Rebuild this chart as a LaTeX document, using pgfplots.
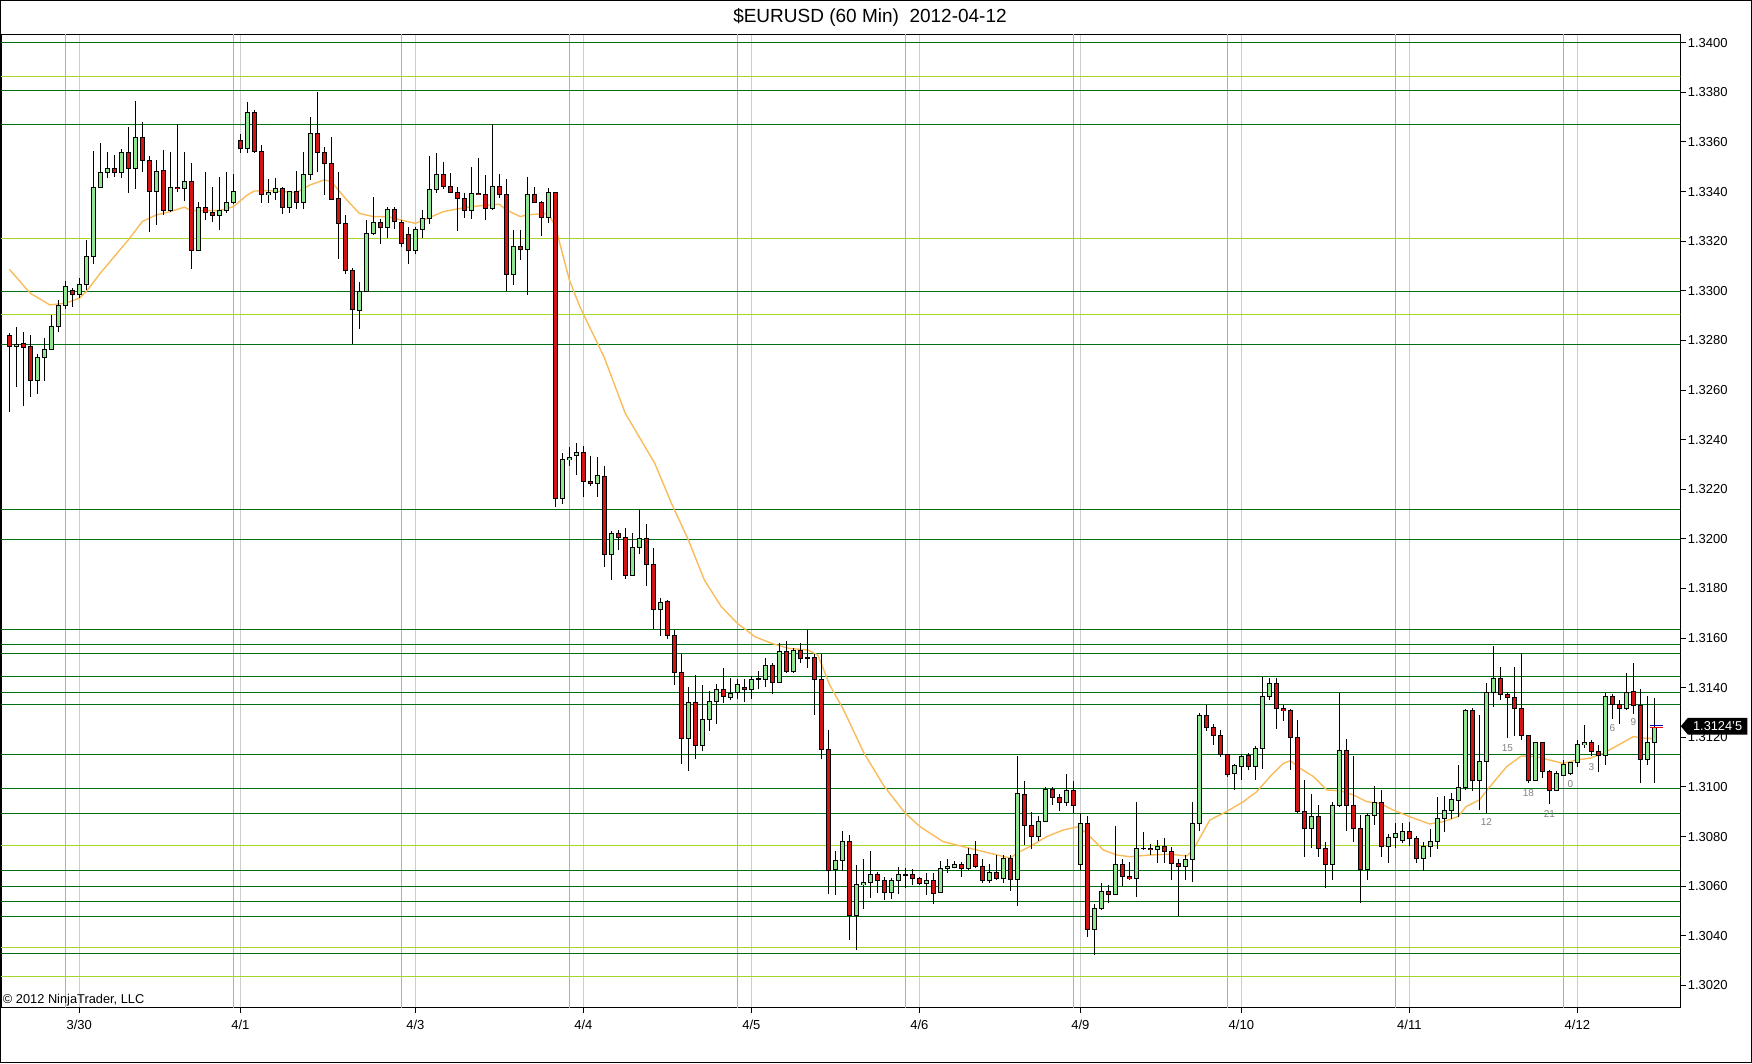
\documentclass[border=0pt]{standalone}
\usepackage{pgfplots}
\pgfplotsset{compat=1.18}
\usepackage{pgfplotstable}
\usepackage{fontspec}
\setmainfont{Liberation Sans}
\usetikzlibrary{shapes.symbols}

\definecolor{dgreen}{RGB}{0,110,20}
\definecolor{lgreen}{RGB}{160,215,40}
\definecolor{vorange}{RGB}{240,170,40}
\definecolor{smaline}{RGB}{248,188,90}
\definecolor{gridgrey}{RGB}{205,205,205}
\definecolor{upbody}{RGB}{144,230,144}
\definecolor{downbody}{RGB}{210,20,20}
\definecolor{hourgrey}{RGB}{130,130,130}

% hourly bars, i = bar number
\pgfplotstableread{
i o h l c
0 1.32819 1.32829 1.32513 1.32776
1 1.32776 1.32856 1.32611 1.32787
2 1.32788 1.32833 1.32537 1.32772
3 1.32774 1.32821 1.32571 1.32639
4 1.32639 1.32748 1.32587 1.32732
5 1.32732 1.32811 1.32638 1.32764
6 1.32764 1.32903 1.32761 1.32857
7 1.32856 1.32963 1.32835 1.32942
8 1.32942 1.33039 1.32928 1.33018
9 1.33001 1.33014 1.32936 1.32987
10 1.32987 1.33053 1.32970 1.33026
11 1.33026 1.33205 1.33003 1.33138
12 1.33138 1.33565 1.33107 1.33417
13 1.33416 1.33597 1.33416 1.33478
14 1.33478 1.33561 1.33456 1.33494
15 1.33494 1.33547 1.33460 1.33478
16 1.33478 1.33570 1.33456 1.33559
17 1.33559 1.33662 1.33393 1.33494
18 1.33494 1.33765 1.33413 1.33619
19 1.33619 1.33679 1.33478 1.33526
20 1.33526 1.33543 1.33236 1.33400
21 1.33400 1.33527 1.33265 1.33483
22 1.33483 1.33568 1.33306 1.33323
23 1.33323 1.33561 1.33319 1.33417
24 1.33417 1.33672 1.33400 1.33412
25 1.33413 1.33561 1.33363 1.33443
26 1.33443 1.33516 1.33091 1.33162
27 1.33162 1.33358 1.33162 1.33337
28 1.33337 1.33480 1.33285 1.33316
29 1.33316 1.33420 1.33279 1.33303
30 1.33303 1.33460 1.33248 1.33324
31 1.33324 1.33480 1.33315 1.33357
32 1.33357 1.33471 1.33353 1.33402
33 1.33607 1.33631 1.33554 1.33573
34 1.33573 1.33761 1.33557 1.33719
35 1.33719 1.33729 1.33557 1.33561
36 1.33561 1.33588 1.33355 1.33389
37 1.33388 1.33451 1.33355 1.33397
38 1.33397 1.33458 1.33366 1.33413
39 1.33413 1.33420 1.33312 1.33337
40 1.33337 1.33400 1.33315 1.33400
41 1.33400 1.33484 1.33330 1.33357
42 1.33357 1.33561 1.33332 1.33469
43 1.33469 1.33702 1.33447 1.33635
44 1.33635 1.33803 1.33480 1.33558
45 1.33558 1.33581 1.33386 1.33514
46 1.33514 1.33619 1.33366 1.33370
47 1.33373 1.33478 1.33128 1.33272
48 1.33272 1.33306 1.33068 1.33081
49 1.33081 1.33091 1.32786 1.32923
50 1.32923 1.33037 1.32849 1.32998
51 1.32998 1.33288 1.32998 1.33232
52 1.33232 1.33379 1.33225 1.33276
53 1.33276 1.33288 1.33189 1.33256
54 1.33256 1.33339 1.33216 1.33330
55 1.33330 1.33339 1.33248 1.33279
56 1.33276 1.33285 1.33178 1.33191
57 1.33228 1.33259 1.33107 1.33162
58 1.33162 1.33259 1.33148 1.33248
59 1.33248 1.33328 1.33212 1.33292
60 1.33292 1.33543 1.33269 1.33410
61 1.33410 1.33557 1.33396 1.33469
62 1.33469 1.33521 1.33413 1.33420
63 1.33420 1.33476 1.33393 1.33396
64 1.33397 1.33420 1.33242 1.33373
65 1.33373 1.33393 1.33292 1.33326
66 1.33326 1.33498 1.33292 1.33393
67 1.33393 1.33537 1.33386 1.33388
68 1.33389 1.33469 1.33285 1.33332
69 1.33332 1.33672 1.33326 1.33420
70 1.33420 1.33471 1.33373 1.33389
71 1.33389 1.33451 1.32999 1.33066
72 1.33066 1.33245 1.33024 1.33181
73 1.33181 1.33245 1.33124 1.33167
74 1.33167 1.33458 1.32986 1.33389
75 1.33389 1.33417 1.33353 1.33357
76 1.33357 1.33363 1.33221 1.33295
77 1.33295 1.33413 1.33275 1.33396
78 1.33396 1.33400 1.32130 1.32163
79 1.32163 1.32348 1.32143 1.32321
80 1.32321 1.32372 1.32294 1.32329
81 1.32338 1.32388 1.32258 1.32349
82 1.32349 1.32374 1.32170 1.32231
83 1.32233 1.32334 1.32213 1.32224
84 1.32224 1.32329 1.32170 1.32254
85 1.32251 1.32294 1.31886 1.31938
86 1.31938 1.32032 1.31834 1.32022
87 1.32022 1.32036 1.31958 1.32006
88 1.32006 1.32043 1.31841 1.31852
89 1.31852 1.32022 1.31852 1.31966
90 1.31966 1.32116 1.31939 1.32002
91 1.32002 1.32059 1.31812 1.31898
92 1.31898 1.31962 1.31637 1.31716
93 1.31716 1.31760 1.31610 1.31747
94 1.31747 1.31754 1.31597 1.31613
95 1.31613 1.31633 1.31411 1.31462
96 1.31462 1.31536 1.31095 1.31196
97 1.31196 1.31404 1.31066 1.31340
98 1.31340 1.31454 1.31113 1.31167
99 1.31167 1.31415 1.31149 1.31273
100 1.31273 1.31387 1.31227 1.31344
101 1.31344 1.31418 1.31254 1.31394
102 1.31394 1.31478 1.31340 1.31364
103 1.31364 1.31438 1.31353 1.31380
104 1.31380 1.31438 1.31357 1.31414
105 1.31402 1.31434 1.31344 1.31394
106 1.31394 1.31447 1.31357 1.31434
107 1.31434 1.31471 1.31398 1.31438
108 1.31434 1.31523 1.31404 1.31490
109 1.31490 1.31499 1.31374 1.31422
110 1.31422 1.31582 1.31422 1.31548
111 1.31548 1.31589 1.31458 1.31465
112 1.31465 1.31559 1.31461 1.31552
113 1.31552 1.31582 1.31499 1.31519
114 1.31519 1.31635 1.31482 1.31521
115 1.31521 1.31536 1.31290 1.31434
116 1.31434 1.31536 1.31112 1.31152
117 1.31152 1.31230 1.30569 1.30666
118 1.30668 1.30742 1.30567 1.30703
119 1.30703 1.30823 1.30663 1.30782
120 1.30782 1.30807 1.30386 1.30482
121 1.30482 1.30688 1.30346 1.30608
122 1.30608 1.30712 1.30511 1.30616
123 1.30616 1.30742 1.30555 1.30648
124 1.30648 1.30656 1.30572 1.30625
125 1.30625 1.30639 1.30545 1.30576
126 1.30576 1.30635 1.30551 1.30625
127 1.30625 1.30679 1.30567 1.30648
128 1.30648 1.30672 1.30592 1.30646
129 1.30648 1.30672 1.30605 1.30632
130 1.30632 1.30639 1.30605 1.30612
131 1.30612 1.30652 1.30565 1.30625
132 1.30625 1.30656 1.30531 1.30574
133 1.30574 1.30703 1.30572 1.30672
134 1.30672 1.30710 1.30655 1.30682
135 1.30679 1.30703 1.30672 1.30688
136 1.30688 1.30699 1.30639 1.30672
137 1.30672 1.30756 1.30666 1.30729
138 1.30729 1.30782 1.30672 1.30679
139 1.30679 1.30709 1.30615 1.30625
140 1.30625 1.30692 1.30615 1.30656
141 1.30656 1.30726 1.30628 1.30632
142 1.30632 1.30726 1.30612 1.30712
143 1.30712 1.30726 1.30582 1.30628
144 1.30628 1.31126 1.30522 1.30972
145 1.30972 1.31024 1.30766 1.30844
146 1.30844 1.30901 1.30753 1.30800
147 1.30800 1.30883 1.30784 1.30863
148 1.30863 1.31002 1.30861 1.30992
149 1.30992 1.31002 1.30928 1.30959
150 1.30959 1.30972 1.30905 1.30938
151 1.30938 1.31055 1.30925 1.30988
152 1.30988 1.31024 1.30894 1.30928
153 1.30688 1.30894 1.30666 1.30854
154 1.30854 1.30883 1.30397 1.30426
155 1.30426 1.30529 1.30326 1.30511
156 1.30511 1.30616 1.30504 1.30582
157 1.30582 1.30605 1.30531 1.30569
158 1.30569 1.30843 1.30565 1.30688
159 1.30688 1.30709 1.30601 1.30639
160 1.30641 1.30696 1.30623 1.30632
161 1.30632 1.30941 1.30555 1.30753
162 1.30753 1.30820 1.30746 1.30755
163 1.30753 1.30770 1.30726 1.30746
164 1.30749 1.30786 1.30693 1.30762
165 1.30762 1.30797 1.30695 1.30739
166 1.30742 1.30760 1.30628 1.30693
167 1.30693 1.30713 1.30480 1.30679
168 1.30679 1.30726 1.30625 1.30709
169 1.30709 1.30938 1.30616 1.30854
170 1.30854 1.31300 1.30824 1.31288
171 1.31288 1.31331 1.31227 1.31241
172 1.31241 1.31254 1.31172 1.31207
173 1.31207 1.31230 1.31122 1.31129
174 1.31129 1.31136 1.31042 1.31051
175 1.31055 1.31095 1.30988 1.31085
176 1.31085 1.31136 1.31031 1.31125
177 1.31125 1.31136 1.31069 1.31082
178 1.31082 1.31165 1.31028 1.31156
179 1.31156 1.31445 1.31075 1.31364
180 1.31364 1.31442 1.31353 1.31418
181 1.31418 1.31438 1.31233 1.31317
182 1.31317 1.31331 1.31268 1.31308
183 1.31308 1.31317 1.31069 1.31200
184 1.31200 1.31270 1.30897 1.30901
185 1.30901 1.31028 1.30719 1.30834
186 1.30834 1.30972 1.30756 1.30883
187 1.30883 1.30928 1.30719 1.30753
188 1.30753 1.30780 1.30592 1.30688
189 1.30688 1.30941 1.30628 1.30925
190 1.30925 1.31380 1.30921 1.31149
191 1.31149 1.31194 1.30824 1.30925
192 1.30925 1.31125 1.30780 1.30834
193 1.30834 1.30887 1.30535 1.30668
194 1.30668 1.30894 1.30625 1.30887
195 1.30887 1.31004 1.30847 1.30937
196 1.30937 1.30988 1.30719 1.30762
197 1.30762 1.30813 1.30695 1.30796
198 1.30796 1.30856 1.30753 1.30813
199 1.30783 1.30854 1.30776 1.30820
200 1.30824 1.30860 1.30762 1.30793
201 1.30793 1.30803 1.30695 1.30713
202 1.30713 1.30780 1.30663 1.30762
203 1.30762 1.30833 1.30719 1.30782
204 1.30782 1.30961 1.30753 1.30874
205 1.30874 1.30964 1.30820 1.30905
206 1.30905 1.30975 1.30871 1.30948
207 1.30948 1.31089 1.30881 1.30999
208 1.30999 1.31313 1.30988 1.31310
209 1.31310 1.31321 1.30985 1.31028
210 1.31028 1.31293 1.30910 1.31105
211 1.31105 1.31418 1.30897 1.31380
212 1.31380 1.31568 1.31321 1.31438
213 1.31438 1.31485 1.31351 1.31374
214 1.31374 1.31384 1.31196 1.31362
215 1.31362 1.31485 1.31206 1.31317
216 1.31317 1.31539 1.31190 1.31210
217 1.31210 1.31210 1.31018 1.31026
218 1.31026 1.31180 1.31026 1.31180
219 1.31180 1.31180 1.31039 1.31062
220 1.31062 1.31071 1.30932 1.30988
221 1.30988 1.31066 1.30985 1.31053
222 1.31048 1.31109 1.31044 1.31093
223 1.31053 1.31102 1.31048 1.31098
224 1.31098 1.31190 1.31082 1.31172
225 1.31172 1.31250 1.31156 1.31180
226 1.31180 1.31190 1.31125 1.31145
227 1.31145 1.31169 1.31062 1.31129
228 1.31129 1.31380 1.31089 1.31367
229 1.31367 1.31378 1.31277 1.31335
230 1.31335 1.31351 1.31254 1.31317
231 1.31317 1.31461 1.31313 1.31384
232 1.31384 1.31501 1.31294 1.31327
233 1.31327 1.31398 1.31018 1.31112
234 1.31112 1.31367 1.31089 1.31180
235 1.31180 1.31360 1.31018 1.31243
}\bars

\begin{document}
\begin{tikzpicture}
\begin{axis}[
    at={(0.5pt,28.15pt)}, anchor=south west,
    scale only axis, width=839.65pt, height=486.7pt,
    xmin=-1.186, xmax=238.71,
    ymin=1.301105, ymax=1.340339,
    axis line style={black, line width=0.5pt},
    xtick={10,33,58,82,106,130,153,176,200,224},
    xticklabels={3/30,4/1,4/3,4/4,4/5,4/6,4/9,4/10,4/11,4/12},
    ytick={1.302,1.304,1.306,1.308,1.310,1.312,1.314,1.316,1.318,1.320,
           1.322,1.324,1.326,1.328,1.330,1.332,1.334,1.336,1.338,1.340},
    xtick pos=left, xticklabel pos=left,
    ytick pos=right, yticklabel pos=right,
    tick align=outside, major tick length=2.75pt,
    tick style={black, line width=0.5pt},
    xmajorgrids, major x grid style={gridgrey, line width=0.5pt},
    ticklabel style={font=\fontsize{6.5}{7}\selectfont},
    yticklabel style={xshift=-2.5pt, /pgf/number format/.cd, fixed, fixed zerofill,
        precision=4, assume math mode=true},
]
% session lines
\pgfplotsinvokeforeach{8,32,56,80,104,128,152,174,198,222}{
  \addplot[vorange, line width=0.5pt] coordinates {(#1,1.29) (#1,1.35)};
}
% levels
\pgfplotsinvokeforeach{1.3400,1.33807,1.33671,1.32999,1.32784,1.32119,1.31998,
  1.31636,1.31575,1.31539,1.31445,1.31382,1.31333,1.31129,1.30995,1.30894,
  1.30663,1.30598,1.30537,1.30479,1.30330}{
  \addplot[dgreen, line width=0.5pt] coordinates {(-5,#1) (245,#1)};
}
\pgfplotsinvokeforeach{1.33863,1.33212,1.32905,1.30765,1.30354,1.30237}{
  \addplot[lgreen, line width=0.5pt] coordinates {(-5,#1) (245,#1)};
}
% moving average
\addplot[smaline, line width=0.7pt] coordinates {
(0,1.33087) (3,1.32990) (5.8,1.32943) (8,1.32950) (10,1.32970) (11,1.32997)
(13,1.33071) (15,1.33138) (17,1.33205) (19,1.33279) (21,1.33306) (23,1.33319)
(25,1.33337) (26,1.33323) (28,1.33323) (30,1.33323) (32,1.33339) (34,1.33386)
(35,1.33402) (37,1.33404) (39,1.33400) (41,1.33396) (43,1.33427) (45,1.33447)
(46,1.33440) (48,1.33373) (50,1.33312) (52,1.33299) (54,1.33299) (56,1.33285)
(58,1.33272) (60,1.33295) (62,1.33319) (65,1.33335) (67,1.33342) (70,1.33349)
(71,1.33326) (73,1.33299) (74,1.33306) (77,1.33312) (78,1.33260) (80,1.33044)
(81.5,1.32936) (85,1.32731) (88,1.32506) (89.4,1.32439) (92.2,1.32305)
(94.6,1.32143) (97,1.31996) (99.3,1.31834) (101.7,1.31727) (104,1.31660)
(106.5,1.31606) (108.9,1.31579) (111.3,1.31559) (114.1,1.31552) (115.5,1.31532)
(117.2,1.31411) (119.2,1.31310) (122.1,1.31136) (125,1.31002) (128,1.30894)
(130.1,1.30840) (133.4,1.30780) (137.2,1.30753) (140.1,1.30733) (143,1.30713)
(143.9,1.30733) (145.8,1.30760) (148.2,1.30800) (150.6,1.30827) (152.7,1.30840)
(153.9,1.30813) (156.3,1.30746) (158.2,1.30726) (160.1,1.30719) (163,1.30726)
(165.8,1.30729) (168.2,1.30722) (169.1,1.30746) (171.5,1.30867) (173.9,1.30901)
(176.3,1.30941) (178.2,1.30981) (180.1,1.31042) (182,1.31095) (183,1.31106)
(184.4,1.31075) (186.3,1.31042) (188.2,1.30988) (190.1,1.30985) (192,1.30968)
(193.9,1.30941) (195.8,1.30934) (197.7,1.30907) (200,1.30881) (202.9,1.30851)
(204.8,1.30860) (207,1.30881) (208.1,1.30921) (210,1.30948) (211.5,1.31001)
(213.9,1.31082) (216,1.31125) (218.1,1.31122) (220,1.31109) (222,1.31095)
(223.9,1.31109) (225.8,1.31116) (227.7,1.31136) (229.6,1.31165) (232,1.31203)
(233.9,1.31196) (234.8,1.31196)
};
% wicks
\addplot[draw=none, mark=none,
  error bars/.cd, y dir=both, y explicit, error mark=none,
  error bar style={draw=black, line width=0.5pt}]
  table[x=i, y expr={(\thisrow{h}+\thisrow{l})/2},
        y error expr={(\thisrow{h}-\thisrow{l})/2}] {\bars};
% body outlines
\addplot[draw=none, mark=none,
  error bars/.cd, y dir=both, y explicit, error mark=none,
  error bar style={draw=black, line width=2.5pt}]
  table[x=i, y expr={(\thisrow{o}+\thisrow{c})/2},
        y error expr={abs(\thisrow{c}-\thisrow{o})/2+0.0000202}] {\bars};
% rising bodies
\addplot[draw=none, mark=none,
  error bars/.cd, y dir=both, y explicit, error mark=none,
  error bar style={draw=upbody, line width=1.5pt}]
  table[x=i, y expr={(\thisrow{o}+\thisrow{c})/2},
        y error expr={(\thisrow{c}>\thisrow{o})*max(abs(\thisrow{c}-\thisrow{o})/2-0.0000202,0)}] {\bars};
% falling bodies
\addplot[draw=none, mark=none,
  error bars/.cd, y dir=both, y explicit, error mark=none,
  error bar style={draw=downbody, line width=1.5pt}]
  table[x=i, y expr={(\thisrow{o}+\thisrow{c})/2},
        y error expr={(\thisrow{c}<\thisrow{o})*max(abs(\thisrow{c}-\thisrow{o})/2-0.0000202,0)}] {\bars};
% last price ticks
\addplot[blue!70!black, line width=0.5pt] coordinates {(234.4,1.31247) (236.3,1.31247)};
\addplot[red, line width=0.5pt] coordinates {(234.4,1.31241) (236.3,1.31241)};
% hour counters
\begin{scope}[every node/.style={font=\fontsize{5}{6}\selectfont, text=hourgrey}]
\node at (axis cs:211,1.30858) {12};
\node at (axis cs:214,1.31156) {15};
\node at (axis cs:217,1.30977) {18};
\node at (axis cs:220,1.30891) {21};
\node at (axis cs:223,1.31011) {0};
\node at (axis cs:226,1.31082) {3};
\node at (axis cs:229,1.31237) {6};
\node at (axis cs:232,1.31261) {9};
\end{scope}
\coordinate (lastp) at (axis cs:238.71,1.31245);
\end{axis}
\node[signal, signal to=west, signal pointer angle=100, fill=black, text=white,
  inner xsep=2.6pt, inner ysep=1.2pt, minimum height=8.4pt, anchor=west,
  font=\fontsize{6.4}{7}\selectfont] at (lastp) {1.3124'5};
\node[anchor=center, font=\fontsize{9.5}{11}\selectfont] at (435pt,523.5pt)
  {\$EURUSD (60 Min) \ 2012-04-12};
\node[anchor=west, inner sep=0pt, font=\fontsize{6.4}{7}\selectfont] at (1.3pt,32pt)
  {\textcopyright{} 2012 NinjaTrader, LLC};
\draw[black, line width=0.5pt] (0.25pt,0.65pt) rectangle (875.6pt,531.75pt);
\pgfresetboundingbox
\useasboundingbox (0,0) rectangle (876pt,532pt);
\end{tikzpicture}
\end{document}
